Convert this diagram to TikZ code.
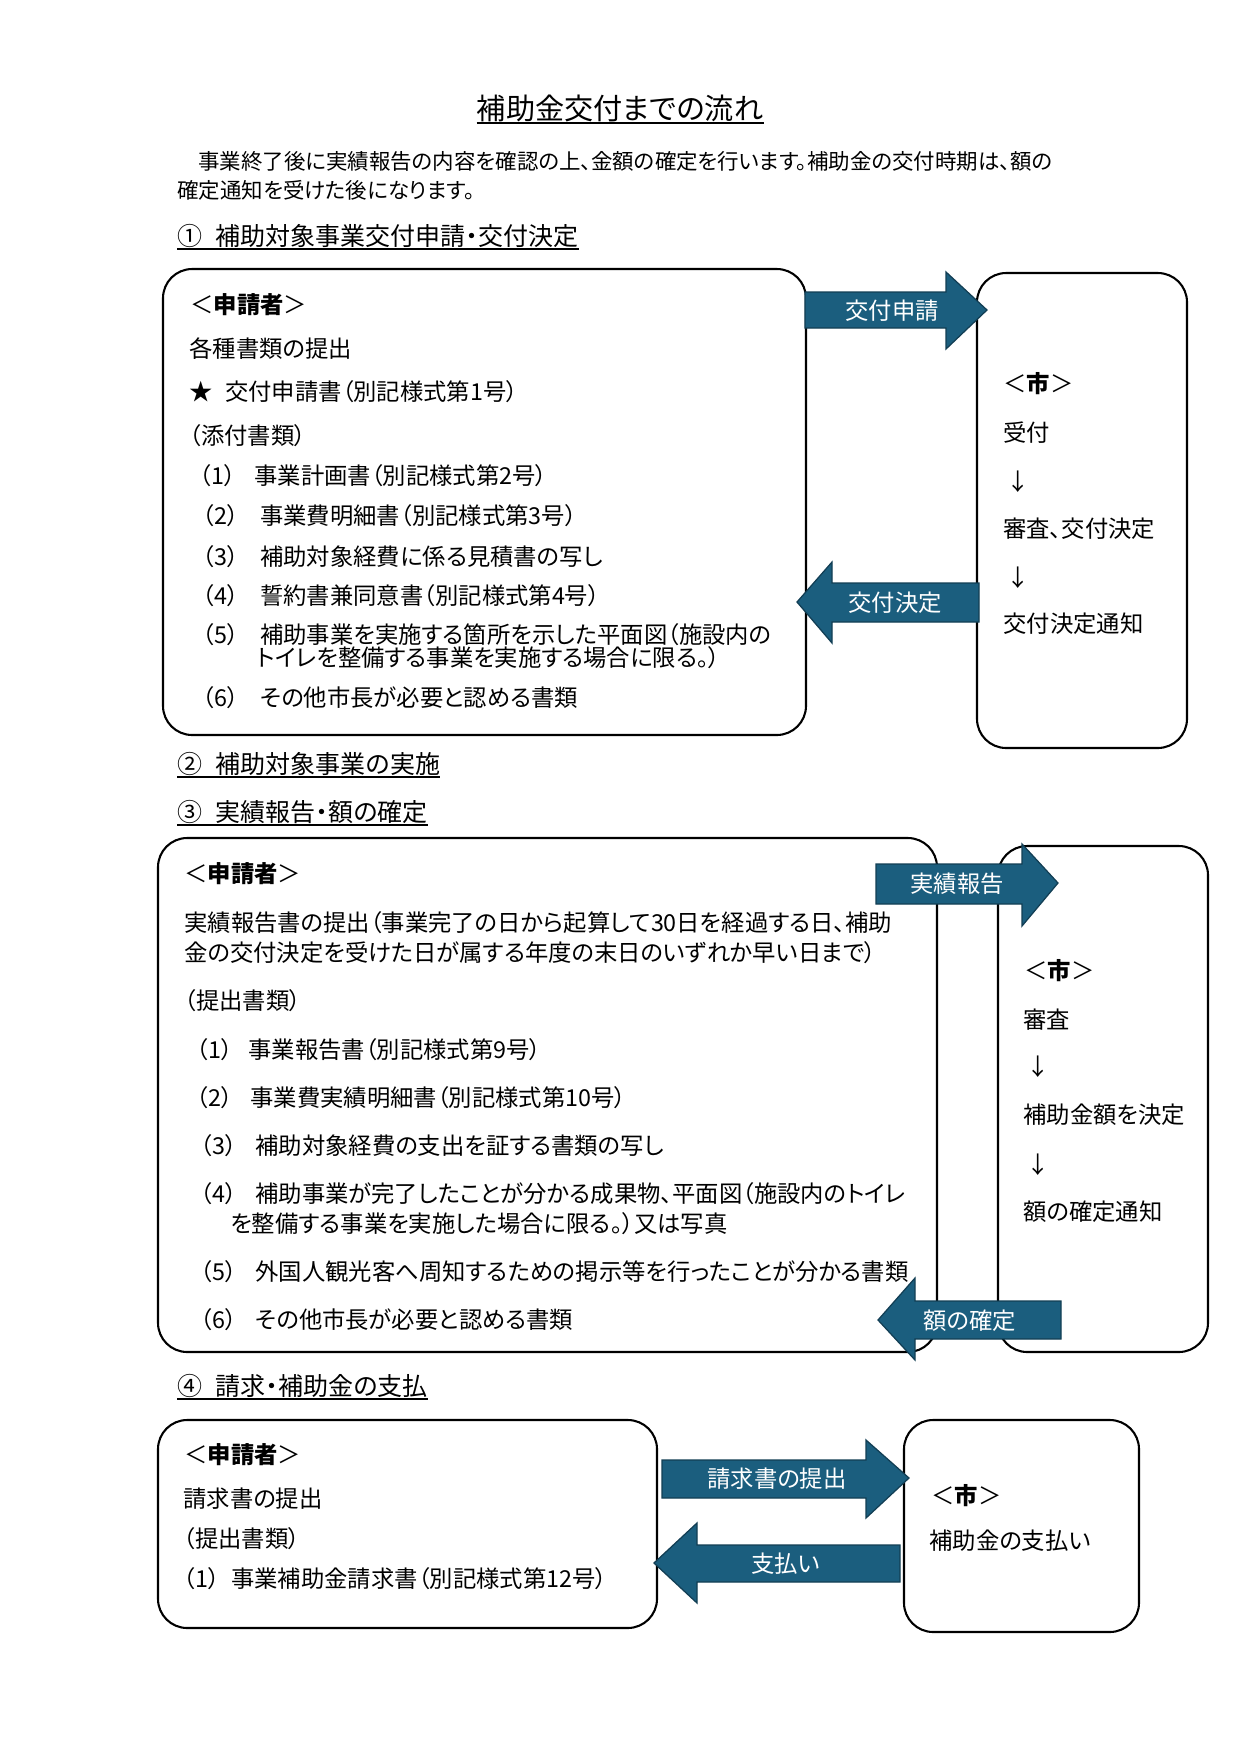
\documentclass[tikz,border=0pt]{standalone}
\usepackage{fontspec}
\setmainfont{Noto Sans CJK JP}[CharacterWidth=AlternateProportional]
\usetikzlibrary{fit,calc}
\definecolor{arrowfill}{RGB}{27,94,126}
\definecolor{arrowline}{RGB}{18,62,84}
\newcommand\tl[3]{\node[txt] (#1) at (#2) {#3};}
\newcommand\itm[5]{\node[txt] (#1) at (#2) {\makebox[#3][l]{#4}#5};}
\begin{document}
\begin{tikzpicture}[x=0.48pt,y=-0.48pt,
  box/.style={draw=black, line width=1pt, rounded corners=14pt, inner sep=0pt},
  txt/.style={anchor=west, inner sep=0pt, font=\fontsize{11.2pt}{13pt}\selectfont, text height=10.4pt, text depth=1.4pt},
  introtxt/.style={txt, font=\fontsize{10.3pt}{12pt}\selectfont},
  head/.style={txt, font=\fontsize{12pt}{14pt}\selectfont, text height=10.5pt, text depth=1.5pt},
  uline/.style={line width=0.6pt},
  blockarrow/.style={fill=arrowfill, draw=arrowline, line width=0.6pt},
  alabel/.style={txt, anchor=center, text=white}]
\fill[white] (0,0) rectangle (1241,1755);
\useasboundingbox (0,0) rectangle (1241,1755);

% title and intro
\node[txt, anchor=center, font=\fontsize{14pt}{17pt}\selectfont, text height=12.3pt, text depth=1.7pt] (title) at (620,108) {補助金交付までの流れ};
\draw[uline] (title.south west) -- (title.south east);
\node[introtxt] (intro1) at (198,160) {事業終了後に実績報告の内容を確認の上、金額の確定を行います。補助金の交付時期は、額の};
\node[introtxt] (intro2) at (177,189) {確定通知を受けた後になります。};

% section 1
\node[head] (h1) at (177,236) {①\hspace{6.5pt}補助対象事業交付申請・交付決定};
\draw[uline] (h1.south west) -- (h1.south east);
\node[box, fit={(163,269) (806,735)}] (A) {};
\node[box, fit={(977,273) (1187,748)}] (B) {};

\tl{a0}{190,304}{＜\textbf{申請者}＞}
\tl{a1}{189,348}{各種書類の提出}
\tl{a2}{189,391}{★\hspace{6pt}交付申請書（別記様式第1号）}
\tl{a3}{189,435}{（添付書類）}
\itm{a4}{199,475}{26.4pt}{（1）}{事業計画書（別記様式第2号）}
\itm{a5}{202,515}{27.8pt}{（2）}{事業費明細書（別記様式第3号）}
\itm{a6}{202,556}{27.8pt}{（3）}{補助対象経費に係る見積書の写し}
\itm{a7}{202,595}{27.8pt}{（4）}{誓約書兼同意書（別記様式第4号）}
\itm{a8}{202,634}{27.8pt}{（5）}{補助事業を実施する箇所を示した平面図（施設内の}
\tl{a9}{257,657}{トイレを整備する事業を実施する場合に限る。）}
\itm{a10}{202,697}{27.8pt}{（6）}{その他市長が必要と認める書類}

\tl{b0}{1003,383}{＜\textbf{市}＞}
\tl{b1}{1003,432}{受付}
\tl{b2}{1006,481}{↓}
\tl{b3}{1003,528}{審査、交付決定}
\tl{b4}{1006,577}{↓}
\tl{b5}{1003,623}{交付決定通知}

\path[blockarrow] (805,292) -- (946,292) -- (946,272) -- (987,310) -- (946,349) -- (946,328) -- (805,328) -- cycle;
\node[alabel] (l1) at (892,310) {交付申請};
\path[blockarrow] (979,583) -- (832,583) -- (832,562) -- (797,602) -- (832,643) -- (832,622) -- (979,622) -- cycle;
\node[alabel] (l2) at (895,602) {交付決定};

% section 2 and 3
\node[head] (h2) at (177,764) {②\hspace{6.5pt}補助対象事業の実施};
\draw[uline] (h2.south west) -- (h2.south east);
\node[head] (h3) at (177,812) {③\hspace{6.5pt}実績報告・額の確定};
\draw[uline] (h3.south west) -- (h3.south east);
\node[box, fit={(158,838) (937,1352)}] (C) {};
\node[box, fit={(998,846) (1208,1352)}] (D) {};

\tl{c0}{184,873}{＜\textbf{申請者}＞}
\tl{c1}{184,922}{実績報告書の提出（事業完了の日から起算して30日を経過する日、補助}
\tl{c2}{184,952}{金の交付決定を受けた日が属する年度の末日のいずれか早い日まで）}
\tl{c3}{184,1000}{（提出書類）}
\itm{c4}{196,1049}{25pt}{（1）}{事業報告書（別記様式第9号）}
\itm{c5}{196,1097}{25.9pt}{（2）}{事業費実績明細書（別記様式第10号）}
\itm{c6}{200,1145}{26.4pt}{（3）}{補助対象経費の支出を証する書類の写し}
\itm{c7}{200,1193}{26.4pt}{（4）}{補助事業が完了したことが分かる成果物、平面図（施設内のトイレ}
\tl{c8}{230,1223}{を整備する事業を実施した場合に限る。）又は写真}
\itm{c9}{200,1271}{26.4pt}{（5）}{外国人観光客へ周知するための掲示等を行ったことが分かる書類}
\itm{c10}{200,1319}{26.4pt}{（6）}{その他市長が必要と認める書類}

\tl{d0}{1024,970}{＜\textbf{市}＞}
\tl{d1}{1023,1019}{審査}
\tl{d2}{1026,1066}{↓}
\tl{d3}{1023,1114}{補助金額を決定}
\tl{d4}{1026,1164}{↓}
\tl{d5}{1023,1211}{額の確定通知}

\path[blockarrow] (876,864) -- (1022,864) -- (1022,844) -- (1058,883) -- (1022,926) -- (1022,904) -- (876,904) -- cycle;
\node[alabel] (l3) at (957,883) {実績報告};
\path[blockarrow] (1061,1301) -- (915,1301) -- (915,1278) -- (878,1320) -- (915,1360) -- (915,1339) -- (1061,1339) -- cycle;
\node[alabel] (l4) at (970,1320) {額の確定};

% section 4
\node[head] (h4) at (177,1386) {④\hspace{6.5pt}請求・補助金の支払};
\draw[uline] (h4.south west) -- (h4.south east);
\node[box, fit={(158,1420) (657,1628)}] (E) {};
\node[box, fit={(904,1420) (1139,1632)}] (F) {};

\tl{e0}{184,1454}{＜\textbf{申請者}＞}
\tl{e1}{183,1498}{請求書の提出}
\tl{e2}{183,1538}{（提出書類）}
\itm{e3}{183,1578}{23pt}{（1）}{事業補助金請求書（別記様式第12号）}

\tl{f0}{931,1495}{＜\textbf{市}＞}
\tl{f1}{929,1540}{補助金の支払い}

\path[blockarrow] (662,1460) -- (866,1460) -- (866,1440) -- (909,1478) -- (866,1518) -- (866,1498) -- (662,1498) -- cycle;
\node[alabel] (l5) at (777,1478) {請求書の提出};
\path[blockarrow] (900,1545) -- (697,1545) -- (697,1523) -- (654,1563) -- (697,1603) -- (697,1582) -- (900,1582) -- cycle;
\node[alabel] (l6) at (786,1563) {支払い};
\end{tikzpicture}
\end{document}
